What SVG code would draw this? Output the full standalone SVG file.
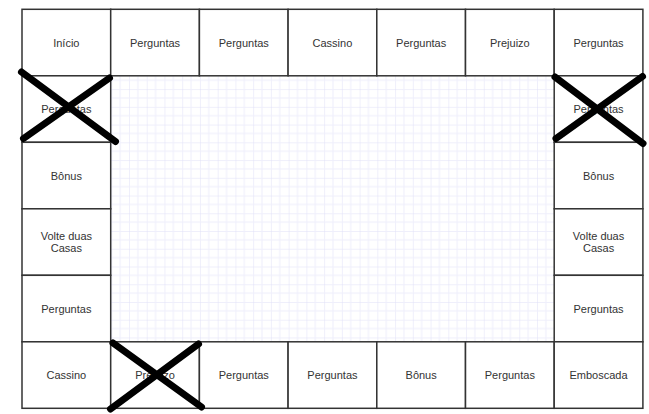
<svg xmlns="http://www.w3.org/2000/svg" width="649" height="414" viewBox="0 0 649 414">
<defs>
<pattern id="grid" patternUnits="userSpaceOnUse" x="4.8" y="0.4" width="17.74" height="17.74">
<path d="M0 0V17.74M0 0H17.74" stroke="#e0e0f8" stroke-width="1" fill="none"/>
<path d="M8.87 0V17.74M0 8.87H17.74" stroke="#eeeefb" stroke-width="1" fill="none"/>
</pattern>
<style>
.cell{fill:#ffffff;stroke:#333333;stroke-width:1.5}
.lbl{font-family:"Liberation Sans",Arial,sans-serif;font-size:11px;fill:#333333;text-anchor:middle}
.x{stroke:#000000;stroke-width:7;stroke-linecap:round;fill:none}
</style>
</defs>
<rect width="649" height="414" fill="#ffffff"/>
<rect x="110.7" y="75.8" width="443.5" height="266" fill="url(#grid)"/>
<g id="top-row">
<g id="c0"><rect class="cell" x="22" y="9.3" width="88.7" height="66.5"/><text class="lbl" x="66.35" y="46.5">Início</text></g>
<g id="c1"><rect class="cell" x="110.7" y="9.3" width="88.7" height="66.5"/><text class="lbl" x="155.05" y="46.5">Perguntas</text></g>
<g id="c2"><rect class="cell" x="199.4" y="9.3" width="88.7" height="66.5"/><text class="lbl" x="243.75" y="46.5">Perguntas</text></g>
<g id="c3"><rect class="cell" x="288.1" y="9.3" width="88.7" height="66.5"/><text class="lbl" x="332.45" y="46.5">Cassino</text></g>
<g id="c4"><rect class="cell" x="376.8" y="9.3" width="88.7" height="66.5"/><text class="lbl" x="421.15" y="46.5">Perguntas</text></g>
<g id="c5"><rect class="cell" x="465.5" y="9.3" width="88.7" height="66.5"/><text class="lbl" x="509.85" y="46.5">Prejuizo</text></g>
<g id="c6"><rect class="cell" x="554.2" y="9.3" width="88.7" height="66.5"/><text class="lbl" x="598.55" y="46.5">Perguntas</text></g>
</g>
<g id="left-col">
<g id="l1"><rect class="cell" x="22" y="75.8" width="88.7" height="66.5"/><text class="lbl" x="66.35" y="113">Perguntas</text></g>
<g id="l2"><rect class="cell" x="22" y="142.3" width="88.7" height="66.5"/><text class="lbl" x="66.35" y="179.5">Bônus</text></g>
<g id="l3"><rect class="cell" x="22" y="208.8" width="88.7" height="66.5"/><text class="lbl" x="66.35" y="240">Volte duas</text><text class="lbl" x="66.35" y="252">Casas</text></g>
<g id="l4"><rect class="cell" x="22" y="275.3" width="88.7" height="66.5"/><text class="lbl" x="66.35" y="312.5">Perguntas</text></g>
</g>
<g id="right-col">
<g id="r1"><rect class="cell" x="554.2" y="75.8" width="88.7" height="66.5"/><text class="lbl" x="598.55" y="113">Perguntas</text></g>
<g id="r2"><rect class="cell" x="554.2" y="142.3" width="88.7" height="66.5"/><text class="lbl" x="598.55" y="179.5">Bônus</text></g>
<g id="r3"><rect class="cell" x="554.2" y="208.8" width="88.7" height="66.5"/><text class="lbl" x="598.55" y="240">Volte duas</text><text class="lbl" x="598.55" y="252">Casas</text></g>
<g id="r4"><rect class="cell" x="554.2" y="275.3" width="88.7" height="66.5"/><text class="lbl" x="598.55" y="312.5">Perguntas</text></g>
</g>
<g id="bottom-row">
<g id="b0"><rect class="cell" x="22" y="341.8" width="88.7" height="66.5"/><text class="lbl" x="66.35" y="379">Cassino</text></g>
<g id="b1"><rect class="cell" x="110.7" y="341.8" width="88.7" height="66.5"/><text class="lbl" x="155.05" y="379">Prejuizo</text></g>
<g id="b2"><rect class="cell" x="199.4" y="341.8" width="88.7" height="66.5"/><text class="lbl" x="243.75" y="379">Perguntas</text></g>
<g id="b3"><rect class="cell" x="288.1" y="341.8" width="88.7" height="66.5"/><text class="lbl" x="332.45" y="379">Perguntas</text></g>
<g id="b4"><rect class="cell" x="376.8" y="341.8" width="88.7" height="66.5"/><text class="lbl" x="421.15" y="379">Bônus</text></g>
<g id="b5"><rect class="cell" x="465.5" y="341.8" width="88.7" height="66.5"/><text class="lbl" x="509.85" y="379">Perguntas</text></g>
<g id="b6"><rect class="cell" x="554.2" y="341.8" width="88.7" height="66.5"/><text class="lbl" x="598.55" y="379">Emboscada</text></g>
</g>
<g id="connectors">
<path class="x" d="M21.5 72L115.5 141.5M109.5 78L23.5 138.5"/>
<path class="x" d="M555 77L643 143.5M642.5 76.5L556 138.5"/>
<path class="x" d="M113 343L201.5 407M198.5 344L110.5 409"/>
</g>
</svg>
